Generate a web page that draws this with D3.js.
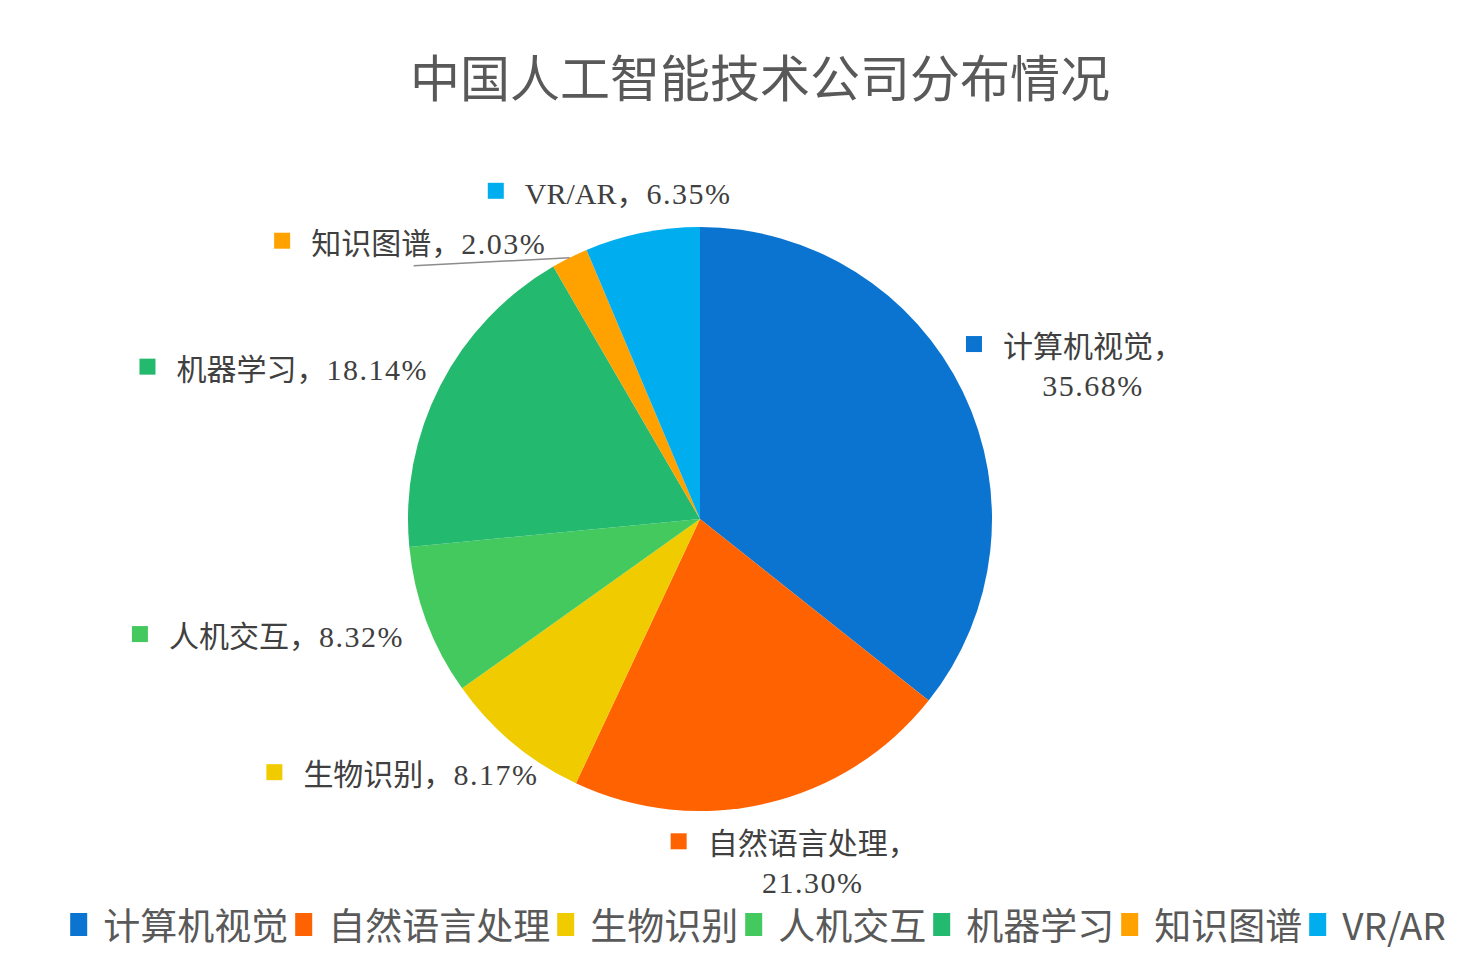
<!DOCTYPE html>
<html>
<head>
<meta charset="utf-8">
<script src="https://cdn.jsdelivr.net/npm/d3@7"></script>
<style>
  html, body { margin: 0; padding: 0; background: #fff; }
  svg { display: block; }
</style>
</head>
<body>
<svg id="chart" width="1476" height="970"></svg>
<script>
// chart values
const categories = ['计算机视觉', '自然语言处理', '生物识别', '人机交互', '机器学习', '知识图谱', 'VR/AR'];
const shares = [35.68, 21.30, 8.17, 8.32, 18.14, 2.03, 6.35];
const colors = ['#0A74D0', '#FF6200', '#F0CB00', '#44C95E', '#23B96E', '#FFA200', '#00AEEF'];
const title = '中国人工智能技术公司分布情况';

// label placement: offset from the slice's outer edge, and whether value wraps to a second line
const labelLayout = [
    { dx: 130, dy: -35, wrap: true },
    { dx: 46, dy: 51, wrap: true },
    { dx: -92, dy: 42, wrap: false },
    { dx: -140, dy: 26, wrap: false },
    { dx: -138, dy: -6, wrap: false },
    { dx: -141, dy: -4, wrap: false, leader: true },
    { dx: -14, dy: -29, wrap: false }
];

let Pie = {
    Cx: 700,
    Cy: 519,
    R: 292
};

let Font = {
    Sans: '"Noto Sans CJK SC", "Noto Sans", sans-serif',
    Label: '"Liberation Serif", "Noto Sans CJK SC", serif'
};

const svg = d3.select('#chart');

// title
svg.append('text')
    .attr('x', 760)
    .attr('y', 97)
    .attr('text-anchor', 'middle')
    .attr('font-family', Font.Sans)
    .attr('font-size', 50)
    .attr('fill', '#595959')
    .text(title);

let data = categories.map((c, i) => ({ name: c, value: shares[i], color: colors[i], layout: labelLayout[i] }));

let pie = d3.pie()
    .sort(null)
    .value(d => d.value);

let arc = d3.arc()
    .innerRadius(0)
    .outerRadius(Pie.R);

let edgeArc = d3.arc()
    .innerRadius(Pie.R)
    .outerRadius(Pie.R);

let arcs = pie(data);

let g = svg.append('g')
    .attr('transform', `translate(${Pie.Cx},${Pie.Cy})`);

g.selectAll('path')
    .data(arcs)
    .join('path')
    .attr('d', arc)
    .attr('fill', d => d.data.color);

let fmt = d3.format('.2f');

// data labels
let labels = g.selectAll('g.label')
    .data(arcs)
    .join('g')
    .attr('class', 'label');

labels.each((d, i, n) => {
    let node = d3.select(n[i]);
    let [ex, ey] = edgeArc.centroid(d);
    let lx = ex + d.data.layout.dx;
    let ly = ey + d.data.layout.dy;
    let valueText = fmt(d.data.value) + '%';

    if (d.data.layout.leader) {
        node.append('line')
            .attr('x1', ex)
            .attr('y1', ey)
            .attr('x2', lx - 15)
            .attr('y2', ly + 12)
            .attr('stroke', '#8c8c8c')
            .attr('stroke-width', 1.5);
    }

    let line1 = node.append('text')
        .attr('x', lx)
        .attr('y', ly)
        .attr('text-anchor', 'middle')
        .attr('font-family', Font.Label)
        .attr('font-size', 30)
        .attr('fill', '#404040');
    line1.append('tspan').text(d.data.name + '，');

    if (d.data.layout.wrap) {
        node.append('text')
            .attr('x', lx)
            .attr('y', ly + 39)
            .attr('text-anchor', 'middle')
            .attr('font-family', Font.Label)
            .attr('font-size', 30)
            .attr('letter-spacing', 1.5)
            .attr('fill', '#404040')
            .text(valueText);
    } else {
        line1.append('tspan')
            .attr('letter-spacing', 1.5)
            .text(valueText);
    }

    let w = line1.node().getComputedTextLength();
    node.append('rect')
        .attr('x', lx - w / 2 - 37)
        .attr('y', ly - 21)
        .attr('width', 16)
        .attr('height', 16)
        .attr('fill', d.data.color);
});

// legend
let legend = svg.append('g');
let items = legend.selectAll('g')
    .data(data)
    .join('g');

items.append('rect')
    .attr('width', 17)
    .attr('height', 23)
    .attr('y', 913)
    .attr('fill', d => d.color);

items.append('text')
    .attr('y', 940)
    .attr('font-family', Font.Sans)
    .attr('font-size', 37)
    .attr('fill', '#595959')
    .text(d => d.name);

let x = 0;
let offsets = [];
items.each((d, i, n) => {
    offsets.push(x);
    let tw = d3.select(n[i]).select('text').node().getComputedTextLength();
    d3.select(n[i]).select('text').attr('x', 33);
    x += 33 + tw + 7;
});
let total = x - 7;
let start = 758 - total / 2;
items.attr('transform', (d, i) => `translate(${start + offsets[i]},0)`);
</script>
</body>
</html>
